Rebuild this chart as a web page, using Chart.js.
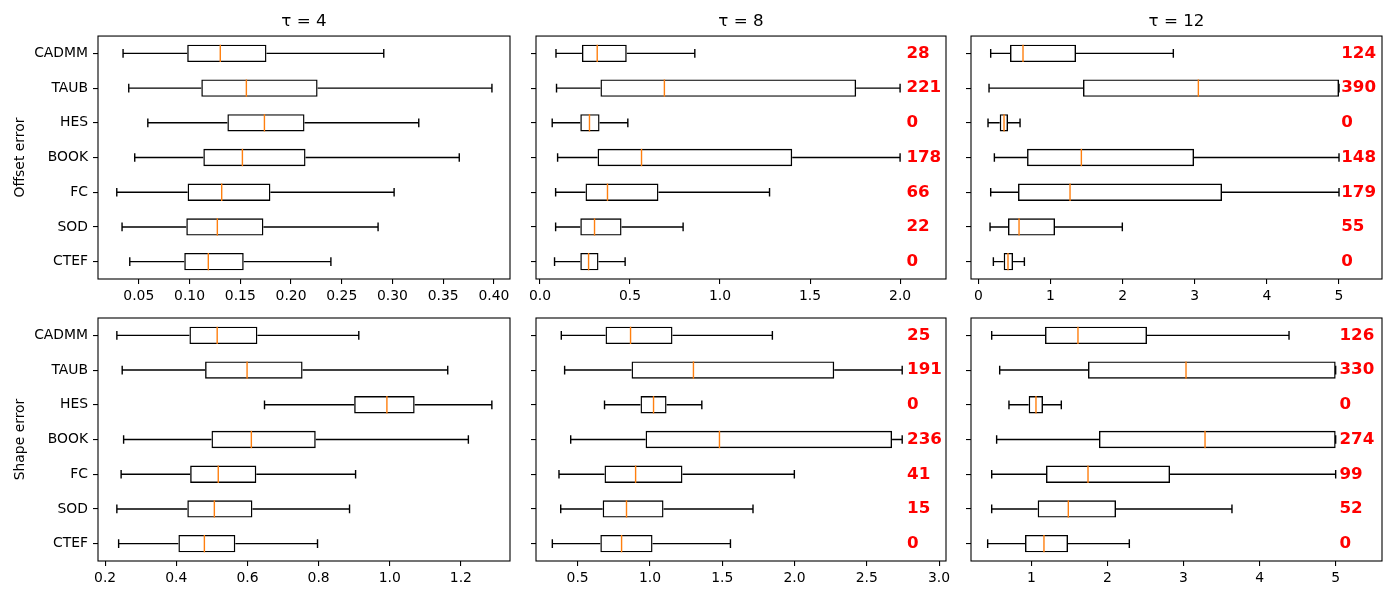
<!DOCTYPE html>
<html>
<head>
<meta charset="utf-8">
<script src="https://cdn.jsdelivr.net/npm/chart.js@4.4.1/dist/chart.umd.min.js"></script>
<style>
  body { margin: 0; background: #fff; }
  #wrap { position: relative; width: 1400px; height: 600px; overflow: hidden; }
  #wrap canvas { position: absolute; }
</style>
</head>
<body>
<div id="wrap">
  <canvas id="c1"></canvas>
  <canvas id="c2"></canvas>
  <canvas id="c3"></canvas>
  <canvas id="c4"></canvas>
  <canvas id="c5"></canvas>
  <canvas id="c6"></canvas>
</div>
<script>
const methods = ['CADMM', 'TAUB', 'HES', 'BOOK', 'FC', 'SOD', 'CTEF'];

// each row: whisker low, q1, median, q3, whisker high
const offset4 = [
  [0.0345, 0.0977, 0.1303, 0.1758, 0.2914],
  [0.0401, 0.1116, 0.1560, 0.2262, 0.3980],
  [0.0589, 0.1373, 0.1738, 0.2133, 0.3259],
  [0.0460, 0.1136, 0.1521, 0.2143, 0.3658],
  [0.0283, 0.0981, 0.1317, 0.1797, 0.3016],
  [0.0335, 0.0968, 0.1274, 0.1728, 0.2858],
  [0.0411, 0.0948, 0.1185, 0.1534, 0.2393]
];
const offset8 = [
  [0.089, 0.233, 0.318, 0.482, 0.860],
  [0.092, 0.336, 0.691, 1.756, 2.000],
  [0.068, 0.224, 0.275, 0.331, 0.488],
  [0.098, 0.320, 0.564, 1.401, 2.000],
  [0.087, 0.253, 0.375, 0.658, 1.275],
  [0.087, 0.224, 0.303, 0.453, 0.795],
  [0.081, 0.224, 0.270, 0.325, 0.473]
];
const offset12 = [
  [0.171, 0.439, 0.619, 1.354, 2.703],
  [0.148, 1.451, 3.050, 5.000, 5.000],
  [0.134, 0.296, 0.356, 0.411, 0.578],
  [0.222, 0.675, 1.428, 2.990, 5.000],
  [0.171, 0.550, 1.271, 3.378, 5.000],
  [0.162, 0.411, 0.564, 1.063, 1.996],
  [0.208, 0.351, 0.411, 0.481, 0.638]
];
const shape4 = [
  [0.233, 0.437, 0.515, 0.628, 0.913],
  [0.248, 0.481, 0.599, 0.755, 1.163],
  [0.648, 0.900, 0.992, 1.070, 1.287],
  [0.252, 0.499, 0.611, 0.792, 1.221],
  [0.245, 0.439, 0.518, 0.625, 0.904],
  [0.233, 0.431, 0.507, 0.614, 0.887],
  [0.238, 0.406, 0.479, 0.566, 0.797]
];
const shape8 = [
  [0.387, 0.693, 0.866, 1.156, 1.847],
  [0.410, 0.873, 1.301, 2.275, 2.745],
  [0.686, 0.935, 1.025, 1.115, 1.359],
  [0.452, 0.970, 1.481, 2.675, 2.745],
  [0.371, 0.686, 0.901, 1.225, 1.999],
  [0.383, 0.673, 0.838, 1.094, 1.713],
  [0.325, 0.657, 0.804, 1.018, 1.557]
];
const shape12 = [
  [0.479, 1.180, 1.613, 2.520, 4.387],
  [0.584, 1.745, 3.033, 5.000, 5.000],
  [0.706, 0.965, 1.061, 1.153, 1.394],
  [0.544, 1.889, 3.283, 5.000, 5.000],
  [0.479, 1.193, 1.745, 2.823, 5.000],
  [0.479, 1.083, 1.486, 2.113, 3.637],
  [0.426, 0.917, 1.166, 1.482, 2.288]
];

// number of runs beyond the cap, printed in red
const offset8Count = [28, 221, 0, 178, 66, 22, 0];
const offset12Count = [124, 390, 0, 148, 179, 55, 0];
const shape8Count = [25, 191, 0, 236, 41, 15, 0];
const shape12Count = [126, 330, 0, 274, 99, 52, 0];

const offsetTicks4 = [0.05, 0.10, 0.15, 0.20, 0.25, 0.30, 0.35, 0.40];
const offsetTicks8 = [0.0, 0.5, 1.0, 1.5, 2.0];
const offsetTicks12 = [0, 1, 2, 3, 4, 5];
const shapeTicks4 = [0.2, 0.4, 0.6, 0.8, 1.0, 1.2];
const shapeTicks8 = [0.5, 1.0, 1.5, 2.0, 2.5, 3.0];
const shapeTicks12 = [1, 2, 3, 4, 5];

Chart.defaults.font.family = 'DejaVu Sans';
Chart.defaults.color = '#000';

const FONT = 13.9;

const panels = [
  { id: 'c1', left: 0,   top: 0,   width: 520, height: 304, yWidth: 98, title: 'τ = 4',  yTitle: 'Offset error',
    stats: offset4, counts: null, xMin: 0.0098, xMax: 0.4158, ticks: offsetTicks4, dec: 2 },
  { id: 'c2', left: 511, top: 0,   width: 445, height: 304, yWidth: 25, title: 'τ = 8',  yTitle: '',
    stats: offset8, counts: offset8Count, countX: 2.035, xMin: -0.022, xMax: 2.255, ticks: offsetTicks8, dec: 1 },
  { id: 'c3', left: 946, top: 0,   width: 446, height: 304, yWidth: 25, title: 'τ = 12', yTitle: '',
    stats: offset12, counts: offset12Count, countX: 5.03, xMin: -0.102, xMax: 5.596, ticks: offsetTicks12, dec: 0 },
  { id: 'c4', left: 0,   top: 304, width: 520, height: 282, yWidth: 98, title: '', yTitle: 'Shape error',
    stats: shape4, counts: null, xMin: 0.180, xMax: 1.338, ticks: shapeTicks4, dec: 1 },
  { id: 'c5', left: 511, top: 304, width: 445, height: 282, yWidth: 25, title: '', yTitle: '',
    stats: shape8, counts: shape8Count, countX: 2.779, xMin: 0.212, xMax: 3.048, ticks: shapeTicks8, dec: 1 },
  { id: 'c6', left: 946, top: 304, width: 446, height: 282, yWidth: 25, title: '', yTitle: '',
    stats: shape12, counts: shape12Count, countX: 5.05, xMin: 0.207, xMax: 5.609, ticks: shapeTicks12, dec: 0 }
];

// whiskers, caps, medians, red counts and the axes frame
function boxParts(p) {
  return {
    id: 'boxParts',
    afterDatasetsDraw(chart) {
      const { ctx, chartArea, scales: { x, y } } = chart;
      const step = Math.abs(y.getPixelForValue(1) - y.getPixelForValue(0));
      ctx.save();
      ctx.lineWidth = 1.4;
      p.stats.forEach((s, i) => {
        const cy = y.getPixelForValue(i);
        const [lo, q1, med, q3, hi] = s.map(v => x.getPixelForValue(v));
        const cap = step * 0.125;
        ctx.strokeStyle = '#000';
        ctx.beginPath();
        ctx.moveTo(lo, cy); ctx.lineTo(q1, cy);
        ctx.moveTo(q3, cy); ctx.lineTo(hi, cy);
        ctx.moveTo(lo, cy - cap); ctx.lineTo(lo, cy + cap);
        ctx.moveTo(hi, cy - cap); ctx.lineTo(hi, cy + cap);
        ctx.stroke();
        const half = step * 0.25;
        ctx.strokeStyle = '#ff7f0e';
        ctx.beginPath();
        ctx.moveTo(med, cy - half); ctx.lineTo(med, cy + half);
        ctx.stroke();
      });
      if (p.counts) {
        ctx.fillStyle = '#ff0000';
        ctx.font = 'bold 16.7px "DejaVu Sans"';
        ctx.textAlign = 'left';
        ctx.textBaseline = 'middle';
        p.counts.forEach((c, i) => {
          ctx.fillText(String(c), x.getPixelForValue(p.countX), y.getPixelForValue(i));
        });
      }
      ctx.lineWidth = 1.1;
      ctx.strokeStyle = '#000';
      ctx.strokeRect(chartArea.left, chartArea.top, chartArea.width, chartArea.height);
      ctx.restore();
    }
  };
}

panels.forEach(p => {
  const canvas = document.getElementById(p.id);
  canvas.width = p.width;
  canvas.height = p.height;
  canvas.style.left = p.left + 'px';
  canvas.style.top = p.top + 'px';

  new Chart(canvas.getContext('2d'), {
    type: 'bar',
    data: {
      labels: methods,
      datasets: [{
        data: p.stats.map(s => [s[1], s[3]]),
        backgroundColor: 'rgba(0,0,0,0)',
        borderColor: '#000',
        borderWidth: 1.4,
        borderSkipped: false,
        barPercentage: 0.5,
        categoryPercentage: 1.0
      }]
    },
    options: {
      responsive: false,
      animation: false,
      indexAxis: 'y',
      layout: { padding: { top: p.title ? 0 : 14, right: 10, left: 0, bottom: 0 } },
      plugins: {
        legend: { display: false },
        tooltip: { enabled: false },
        title: {
          display: !!p.title,
          text: p.title,
          fullSize: false,
          color: '#000',
          font: { size: 16.7, weight: 'normal' },
          padding: { top: 12, bottom: 4 }
        }
      },
      scales: {
        x: {
          type: 'linear',
          min: p.xMin,
          max: p.xMax,
          border: { display: false },
          grid: { drawOnChartArea: false, drawTicks: true, tickLength: 5, color: '#000', lineWidth: 1.1 },
          ticks: {
            font: { size: FONT },
            padding: 4,
            autoSkip: false,
            maxRotation: 0,
            callback: v => Number(v).toFixed(p.dec)
          },
          afterBuildTicks: s => { s.ticks = p.ticks.map(v => ({ value: v })); },
          afterFit: s => { s.height = 25; }
        },
        y: {
          type: 'category',
          offset: true,
          border: { display: false },
          grid: { offset: false, drawOnChartArea: false, drawTicks: true, tickLength: 5, color: '#000', lineWidth: 1.1 },
          ticks: {
            font: { size: FONT },
            padding: 5,
            callback: function (v) { return p.yTitle ? this.getLabelForValue(v) : ''; }
          },
          title: {
            display: !!p.yTitle,
            text: p.yTitle,
            color: '#000',
            font: { size: FONT },
            padding: { top: 12, bottom: 0 }
          },
          afterFit: s => { s.width = p.yWidth; }
        }
      }
    },
    plugins: [boxParts(p)]
  });
});
</script>
</body>
</html>
